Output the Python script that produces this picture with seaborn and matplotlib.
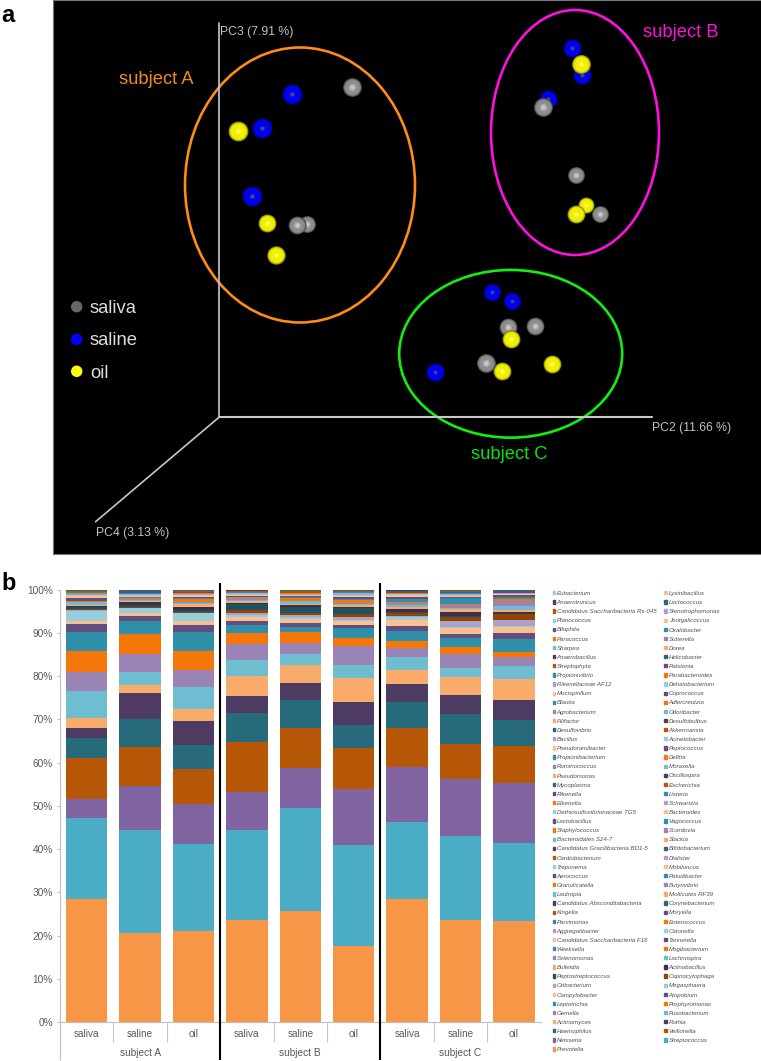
import numpy as np
import pandas as pd
import seaborn as sns
import matplotlib.pyplot as plt
from matplotlib.colors import to_rgb
from matplotlib.patches import Ellipse, Patch

pc_x = [292, 351.7, 238, 262, 252, 267, 307, 297, 275.7,
        572, 582, 581.3, 547.7, 543.3, 576.3, 586.3, 600, 576.3,
        492.2, 511.7, 508.3, 534.5, 510.7, 435.4, 502.4, 486, 552]
pc_y = [93.7, 86.7, 131, 127.7, 195.7, 223, 224, 225, 255,
        48.3, 75, 64.3, 99.3, 106.7, 175.3, 205, 213.7, 214,
        292.3, 300.7, 326.7, 326.3, 339.3, 372.3, 371.3, 363.3, 364.3]
pc_sample = ['saline', 'saliva', 'oil', 'saline', 'saline', 'oil', 'saliva', 'saliva', 'oil',
             'saline', 'saline', 'oil', 'saline', 'saliva', 'saliva', 'oil', 'saliva', 'oil',
             'saline', 'saline', 'saliva', 'saliva', 'oil', 'saline', 'oil', 'saliva', 'oil']
# spheres get smaller with depth
pc_diam = [20, 19, 20, 20, 20, 18, 17, 18, 18.5,
           18, 18, 19, 18, 19, 17, 16, 17, 18,
           17, 17, 18, 18, 18, 18, 18, 19, 18]

# Panel b: cumulative tops (%) of the stacked segments, bottom to top
saliva_a = [28.4, 47.15, 51.7, 61.0, 65.7, 68.0, 70.4, 76.5, 80.9, 85.8, 90.1, 92.0, 92.8, 95.1, 95.2, 95.5, 95.9,
            96.3, 96.5, 97.1, 97.2, 97.35, 97.5, 98.1, 98.5, 98.8, 99.1, 99.2, 99.4, 99.5, 99.65, 99.85, 100]
saline_a = [20.5, 44.45, 54.5, 63.7, 70.2, 76.1, 78.0, 81.0, 85.2, 89.7, 92.8, 94.0, 94.6, 95.7, 95.8, 96.1, 96.4,
            97.1, 97.3, 97.7, 97.9, 98.05, 98.25, 98.4, 98.6, 98.8, 99.0, 99.1, 99.3, 99.6, 99.7, 99.85, 100]
oil_a = [21.0, 41.1, 50.4, 58.6, 64.1, 69.6, 72.4, 77.5, 81.4, 85.8, 90.1, 91.8, 92.8, 94.5, 94.7, 94.95, 95.4,
         96.1, 96.6, 96.9, 97.1, 97.9, 98.1, 98.4, 98.7, 98.85, 99.1, 99.2, 99.35, 99.5, 99.75, 99.9, 100]
saliva_b = [23.6, 44.45, 53.2, 64.8, 71.4, 75.3, 80.0, 83.7, 87.4, 89.9, 91.9, 92.8, 93.8, 94.1, 94.5, 95.3, 96.8,
            96.95, 97.4, 97.7, 98.0, 98.2, 98.35, 98.5, 98.8, 99.0, 99.2, 99.3, 99.4, 99.5, 99.65, 99.8, 100]
saline_b = [25.6, 49.4, 58.7, 67.9, 74.5, 78.4, 82.5, 85.2, 87.6, 90.2, 91.3, 92.3, 93.2, 93.8, 94.1, 94.7, 96.1,
            96.4, 96.8, 97.4, 97.5, 98.1, 98.4, 98.55, 98.7, 98.85, 99.05, 99.15, 99.3, 99.35, 99.7, 99.85, 100]
oil_b = [17.6, 40.9, 54.0, 63.4, 68.7, 74.0, 79.6, 82.6, 87.0, 88.8, 91.1, 91.9, 92.7, 93.1, 93.8, 94.4, 95.8,
         96.1, 96.4, 96.75, 97.0, 97.6, 97.8, 98.2, 98.5, 98.8, 99.2, 99.3, 99.45, 99.55, 99.7, 99.85, 100]
saliva_c = [28.5, 46.2, 59.1, 68.0, 74.1, 78.2, 81.4, 84.4, 86.6, 88.2, 90.4, 91.6, 93.0, 93.6, 93.9, 94.7, 94.8,
            95.6, 96.1, 96.4, 97.0, 97.1, 97.95, 98.2, 98.7, 98.9, 99.1, 99.2, 99.3, 99.45, 99.55, 99.8, 100]
saline_c = [23.6, 43.0, 56.1, 64.3, 71.3, 75.6, 79.8, 82.0, 85.1, 86.8, 88.8, 89.8, 91.2, 91.4, 92.8, 93.8, 93.9,
            94.8, 95.6, 95.8, 96.5, 96.6, 98.1, 98.2, 98.5, 98.7, 99.0, 99.1, 99.2, 99.4, 99.75, 99.85, 100]
oil_c = [23.4, 41.3, 55.3, 63.8, 69.8, 74.6, 79.3, 82.4, 84.5, 85.5, 88.7, 89.9, 91.3, 91.5, 93.1, 94.3, 94.4,
         94.8, 95.4, 96.3, 97.4, 97.8, 98.4, 98.7, 99.0, 99.1, 99.2, 99.25, 99.3, 99.75, 99.8, 99.85, 100]

sample_labels = ['saliva', 'saline', 'oil'] * 3
subject_labels = ['subject A', 'subject B', 'subject C']
y_ticks = [0, 10, 20, 30, 40, 50, 60, 70, 80, 90, 100]

# legend columns as printed, top to bottom
genus_left = ['Eubacterium', 'Anaerotruncus', 'Candidatus Saccharibacteria Rs-045', 'Planococcus', 'Bilophila',
              'Paracoccus', 'Sharpea', 'Anaerobacillus', 'Streptophyta', 'Propionivibrio', 'Rikenellaceae AF12',
              'Mucispirillum', 'Blautia', 'Agrobacterium', 'Filifactor', 'Desulfovibrio', 'Bacillus',
              'Pseudoramibacter', 'Propionibacterium', 'Ruminococcus', 'Pseudomonas', 'Mycoplasma', 'Rikenella',
              'Eikenella', 'Dethiosulfovibrionaceae TG5', 'Lactobacillus', 'Staphylococcus', 'Bacteroidales S24-7',
              'Candidatus Gracilibacteria BD1-5', 'Cardiobacterium', 'Treponema', 'Aerococcus', 'Granulicatella',
              'Lautropia', 'Candidatus Absconditabacteria', 'Kingella', 'Parvimonas', 'Aggregatibacter',
              'Candidatus Saccharibacteria F16', 'Weeksella', 'Selenomonas', 'Bulleidia', 'Peptostreptococcus',
              'Oribacterium', 'Campylobacter', 'Leptotrichia', 'Gemella', 'Actinomyces', 'Haemophilus', 'Neisseria',
              'Prevotella']
genus_right = ['Lysinibacillus', 'Lactococcus', 'Stenotrophomonas', 'Jeotgalicoccus', 'Oxalobacter', 'Sutterella',
               'Dorea', 'Helicobacter', 'Ralstonia', 'Parabacteroides', 'Dehalobacterium', 'Coprococcus',
               'Adlercreutzia', 'Odoribacter', 'Desulfobulbus', 'Akkermansia', 'Acinetobacter', 'Peptococcus',
               'Delftia', 'Moraxella', 'Oscillospira', 'Escherichia', 'Listeria', 'Schwartzia', 'Bacteroides',
               'Vagococcus', 'Scardovia', 'Slackia', 'Bifidobacterium', 'Dialister', 'Mobiluncus', 'Paludibacter',
               'Butyrivibrio', 'Mollicutes RF39', 'Corynebacterium', 'Moryella', 'Enterococcus', 'Catonella',
               'Tannerella', 'Mogibacterium', 'Lachnospira', 'Actinobacillus', 'Capnocytophaga', 'Megasphaera',
               'Atopobium', 'Porphyromonas', 'Fusobacterium', 'Rothia', 'Veillonella', 'Streptococcus']

# Excel style palette: orange / blue / purple in a shade that changes every three series
shades = {'accent': ['#F79646', '#4BACC6', '#8064A2'],
          'dark': ['#B65708', '#276A7C', '#4E3B62'],
          'darker': ['#8F4506', '#1E5260', '#3D2E4D'],
          'light': ['#F9AB6B', '#6FBDD1', '#9A83B5'],
          'mid': ['#F57609', '#2F8FA9', '#634D7F'],
          'pale': ['#FBC090', '#96CEDC', '#B0A0C8']}
shade_by_group = ['accent', 'dark', 'light', 'mid', 'pale', 'darker', 'light', 'mid', 'pale', 'mid', 'dark', 'light',
                  'mid', 'pale', 'dark', 'light', 'mid', 'pale', 'mid', 'dark', 'light', 'mid', 'pale', 'dark',
                  'light', 'mid', 'pale', 'mid', 'dark', 'light', 'mid', 'pale', 'dark', 'pale']

sns.set_style('white')
plt.rcParams['font.family'] = ['Liberation Sans', 'DejaVu Sans']

W, H = 761, 1061
fig = plt.figure(figsize=(W / 100, H / 100), dpi=100)

# ---- panel a ----
ax_a = fig.add_axes([53 / W, 1 - 554 / H, (W - 53) / W, 554 / H])
ax_a.set_facecolor('black')
ax_a.set_xticks([])
ax_a.set_yticks([])
for s in ax_a.spines.values():
    s.set_color('#777777')
    s.set_linewidth(0.8)
ax_a.spines['right'].set_visible(False)

axis_gray = '#C8C8C8'
ax_a.plot([219, 219], [23, 417.3], color=axis_gray, lw=1.2)
ax_a.plot([219, 652], [417.3, 417.3], color=axis_gray, lw=1.5)
ax_a.plot([219, 95.6], [417.3, 521.7], color=axis_gray, lw=1.2)
ax_a.text(220, 31.7, 'PC3 (7.91 %)', color='#C0C0C0', fontsize=8.8, va='center')
ax_a.text(652, 428, 'PC2 (11.66 %)', color='#C0C0C0', fontsize=8.8, va='center')
ax_a.text(95.6, 532.7, 'PC4 (3.13 %)', color='#C0C0C0', fontsize=8.8, va='center')

ax_a.add_patch(Ellipse((300, 185), 230, 275, fill=False, ec='#FF8C14', lw=1.9))
ax_a.add_patch(Ellipse((575, 132.5), 168, 245, fill=False, ec='#FF10E0', lw=1.9))
ax_a.add_patch(Ellipse((510.7, 353.8), 223, 167.7, fill=False, ec='#10F010', lw=1.9))
ax_a.text(118.7, 80, 'subject A', color='#F08A1C', fontsize=13.2, va='center')
ax_a.text(643, 32.3, 'subject B', color='#FF10E0', fontsize=13.2, va='center')
ax_a.text(471, 454.3, 'subject C', color='#10E010', fontsize=13.2, va='center')

# sphere look: shaded from rim to body to a small highlight
sphere_rim = {'saliva': '#3A3A3A', 'saline': '#000090', 'oil': '#707010'}
sphere_body = {'saliva': '#8E8E8E', 'saline': '#0000F0', 'oil': '#F0F000'}
sphere_spot = {'saliva': '#C8C8C8', 'saline': '#50507A', 'oil': '#FFFF70'}
spot_size = {'saliva': 0.22, 'saline': 0.15, 'oil': 0.16}


def shade_steps(sample):
    rim, body, spot = [np.array(to_rgb(c[sample])) for c in (sphere_rim, sphere_body, sphere_spot)]
    steps = [(f, rim + (body - rim) * t) for f, t in zip([1.0, 0.95, 0.9, 0.84, 0.76], [0, 0.3, 0.6, 0.85, 1])]
    steps += [(spot_size[sample] * 1.7, body + (spot - body) * 0.5)]
    steps += [(spot_size[sample], spot)]
    return steps


for x, y, sample, d in zip(pc_x, pc_y, pc_sample, pc_diam):
    for frac, col in shade_steps(sample):
        sns.scatterplot(x=[x], y=[y], s=(d * frac * 0.72) ** 2, color=[tuple(col)], linewidth=0, ax=ax_a, legend=False)

key_df = pd.DataFrame({'x': [76.7, 76.7, 76.7], 'y': [306.7, 339.3, 371.3], 'sample': ['saliva', 'saline', 'oil']})
sns.scatterplot(data=key_df, x='x', y='y', hue='sample', palette={'saliva': '#666666', 'saline': '#0000FF', 'oil': '#FFFF00'},
                s=(11.5 * 0.72) ** 2, linewidth=0, ax=ax_a, legend=False)
ax_a.set_xlim(53, W)
ax_a.set_ylim(554, 0)
ax_a.set_xlabel('')
ax_a.set_ylabel('')
for name, y in zip(['saliva', 'saline', 'oil'], [308.7, 340.7, 373.3]):
    ax_a.text(90, y, name, color='#DDDDDD', fontsize=13.2, va='center')

# ---- panel b ----
ax_b = fig.add_axes([60 / W, 1 - 1022 / H, 480.6 / W, 432.3 / H])
bars = [saliva_a, saline_a, oil_a, saliva_b, saline_b, oil_b, saliva_c, saline_c, oil_c]
tops = np.array(bars)
bottoms = np.hstack([np.zeros((9, 1)), tops[:, :-1]])
bar_ids = [f'{i}' for i in range(9)]

# stack order alternates between the two legend columns, from the bottom up
left_up = genus_left[::-1]
right_up = genus_right[::-1]
genera = []
for i in range(len(left_up)):
    genera.append(left_up[i])
    if i < len(right_up):
        genera.append(right_up[i])
colors = [shades[shade_by_group[i // 3]][i % 3] for i in range(len(genera))]

# only the first series are thick enough to read, the rest are below a pixel
for k in range(tops.shape[1]):
    sns.barplot(x=bar_ids, y=tops[:, k] - bottoms[:, k], bottom=bottoms[:, k], order=bar_ids, color=colors[k],
                saturation=1, width=0.777, errorbar=None, linewidth=0, ax=ax_b)

ax_b.set_xlim(-0.5, 8.5)
ax_b.set_ylim(0, 100)
ax_b.set_yticks(y_ticks)
ax_b.set_yticklabels([f'{t}%' for t in y_ticks], fontsize=7.3, color='#595959')
ax_b.tick_params(axis='y', left=True, length=2.2, width=0.8, color='#BFBFBF', pad=3)
ax_b.set_xticks([])
ax_b.set_xlabel('')
ax_b.set_ylabel('')
sns.despine(ax=ax_b, top=True, right=True)
for side in ['left', 'bottom']:
    ax_b.spines[side].set_color('#BFBFBF')
    ax_b.spines[side].set_linewidth(0.8)

# two level category axis under the bars
ax_b.vlines([0.5, 1.5, 3.5, 4.5, 6.5, 7.5], -4.55, 0, color='#C8C8C8', lw=0.8, clip_on=False)
ax_b.vlines([-0.5], -8.8, 0, color='#BFBFBF', lw=0.8, clip_on=False)
ax_b.vlines([2.5, 5.5], -8.8, 101.5, color='black', lw=1.5, clip_on=False, zorder=5)
for i, lab in enumerate(sample_labels):
    ax_b.text(i, -2.85, lab, ha='center', va='center', fontsize=7.2, color='#595959')
for i, lab in enumerate(subject_labels):
    ax_b.text(1 + 3 * i, -7.15, lab, ha='center', va='center', fontsize=7.3, color='#595959')

color_of = dict(zip(genera, colors))
labels = genus_left + genus_right
handles = [Patch(color=color_of[g]) for g in labels]
fig.legend(handles, labels, ncol=2, loc='upper left', bbox_to_anchor=(552.5 / W, 1 - 591 / H), frameon=False,
           prop={'style': 'italic', 'size': 4.4, 'family': 'Liberation Sans'}, labelcolor='#505050',
           handlelength=0.45, handleheight=0.42, handletextpad=0.25, labelspacing=0.675, columnspacing=1.3,
           borderpad=0, borderaxespad=0)

fig.text(1 / W, 1 - 15.7 / H, 'a', fontsize=17, fontweight='bold', va='center', color='black')
fig.text(1 / W, 1 - 583 / H, 'b', fontsize=17, fontweight='bold', va='center', color='black')

fig.savefig('out.png', dpi=100)
